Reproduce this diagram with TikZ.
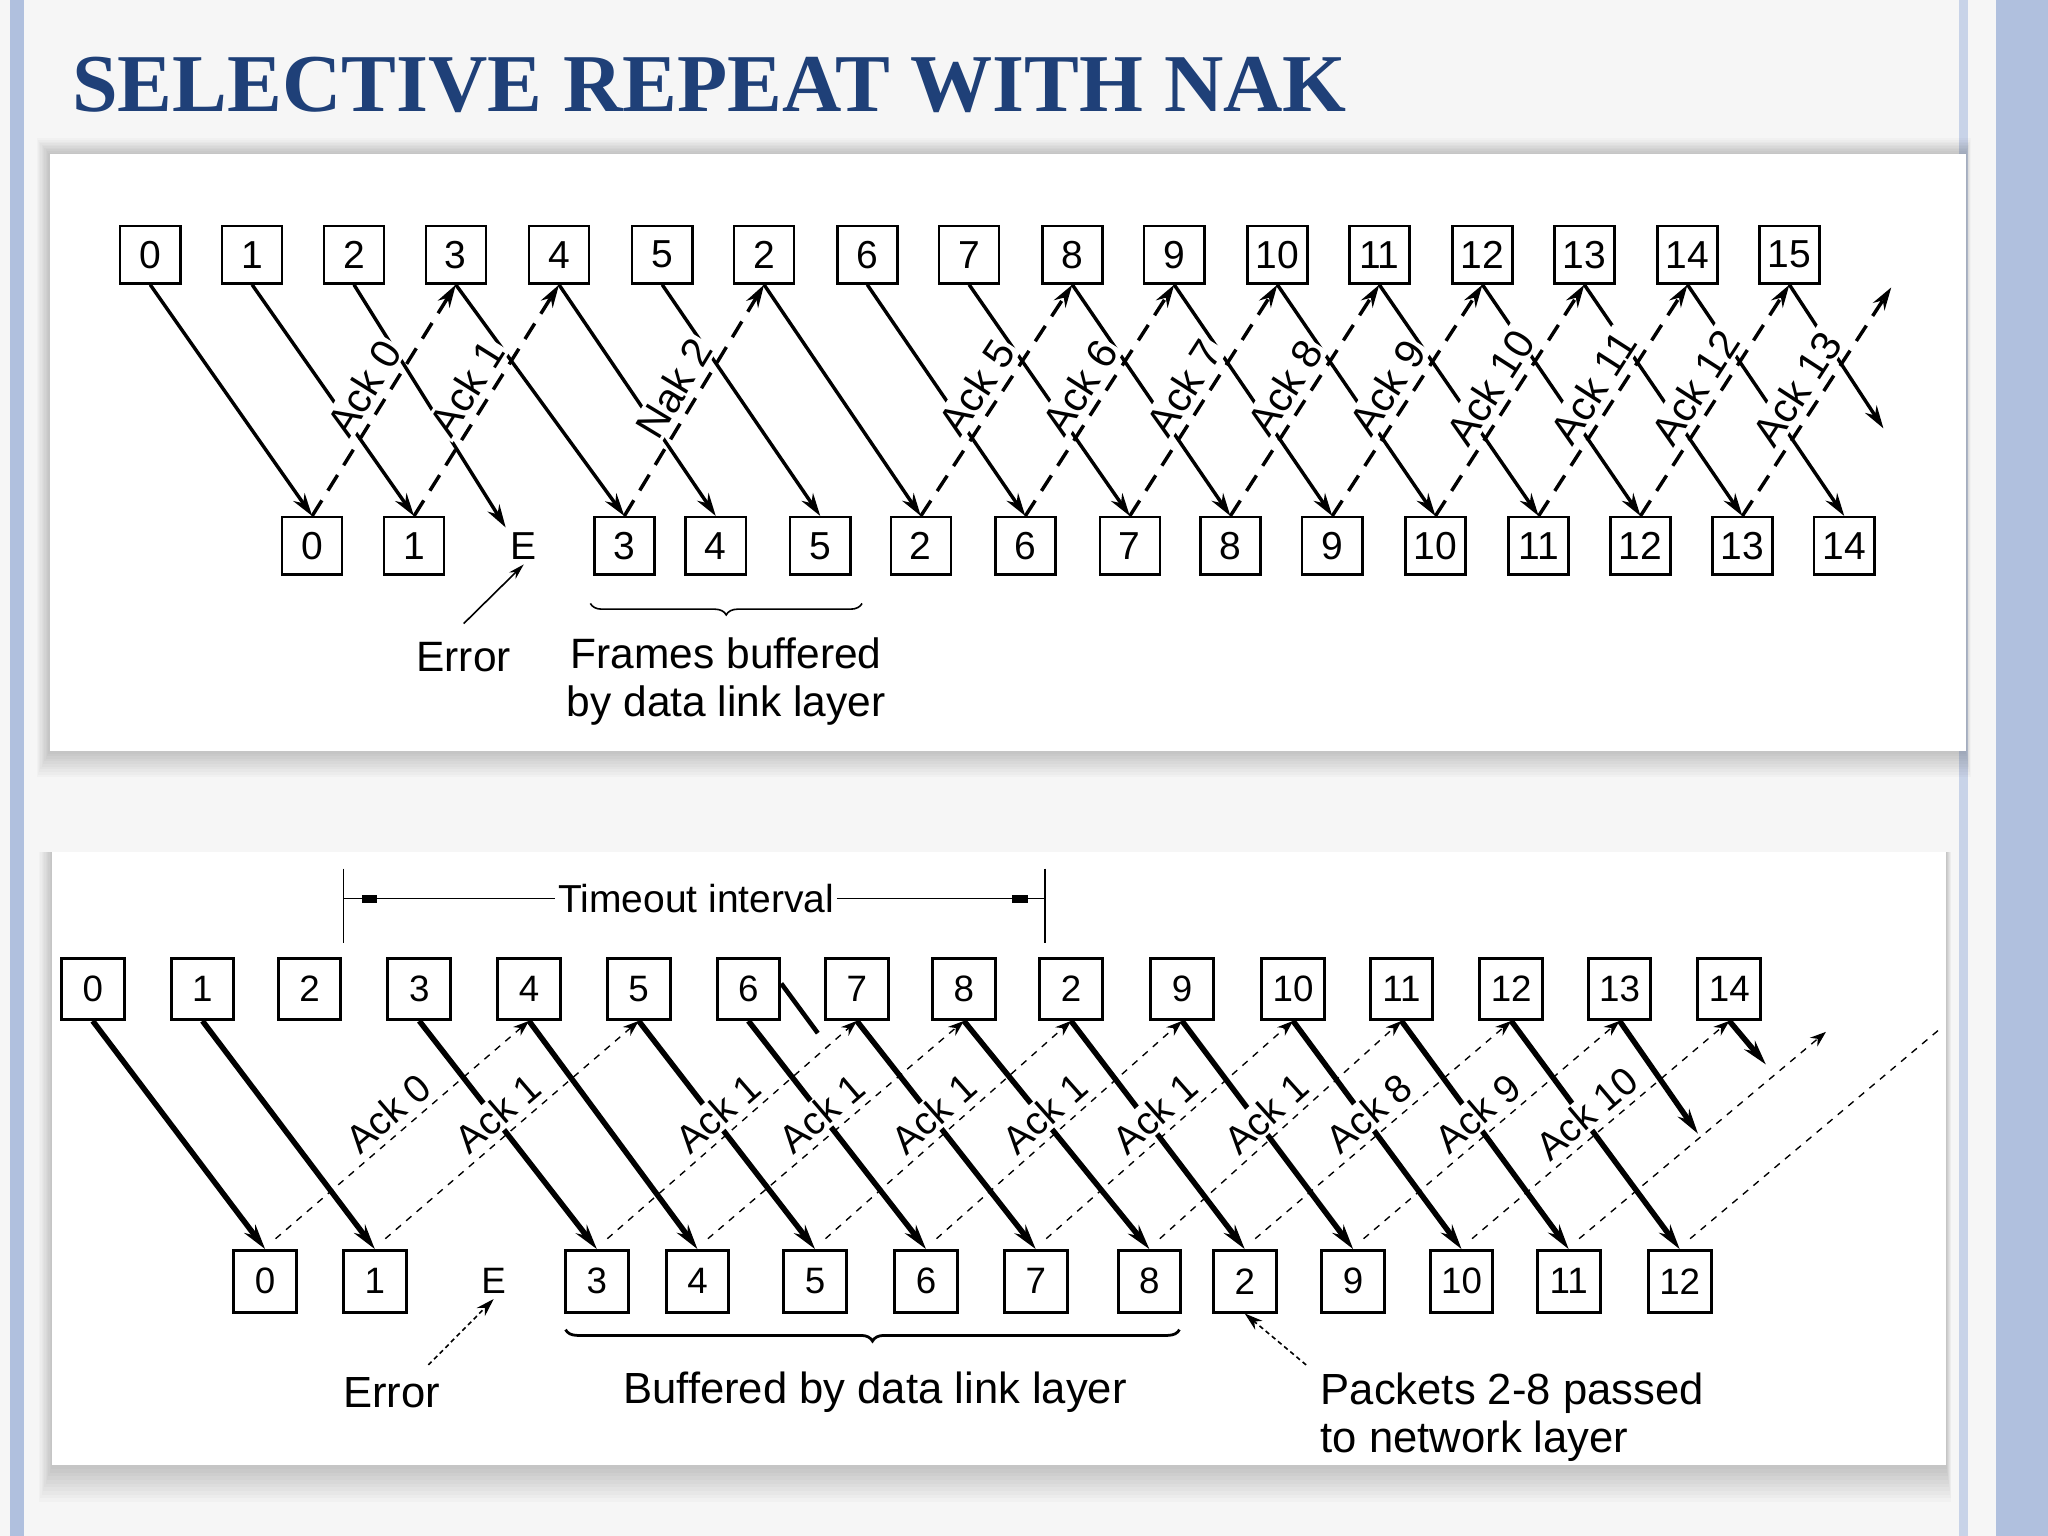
\documentclass[tikz,border=0pt]{standalone}
\usepackage{fontspec}
\setmainfont{Liberation Sans}
\newfontfamily\titlefont{Liberation Serif}
\usetikzlibrary{arrows.meta,decorations.pathreplacing}
\definecolor{titleblue}{RGB}{31,64,120}
\definecolor{stripe}{RGB}{176,192,222}
\definecolor{bg}{RGB}{246,246,246}
\begin{document}
\begin{tikzpicture}[x=0.02cm,y=-0.02cm,
 tbox/.style={draw,line width=1.1pt,minimum width=0.92cm,minimum height=0.88cm,inner sep=0pt,font=\fontsize{17}{17}\selectfont},
 bbox/.style={draw,line width=1.3pt,minimum width=0.96cm,minimum height=0.94cm,inner sep=0pt,font=\fontsize{16}{16}\selectfont},
 tframe/.style={-{Stealth[length=10pt,width=6pt]},line width=1.5pt},
 tack/.style={-{Stealth[length=10pt,width=6pt]},line width=1.5pt,dash pattern=on 8pt off 5pt},
 bframe/.style={-{Stealth[length=11pt,width=6pt]},line width=2.4pt},
 back/.style={-{Stealth[length=7pt,width=5pt]},line width=0.6pt,dash pattern=on 3pt off 3pt},
 tlab/.style={sloped,above=2pt,pos=0.5,font=\fontsize{18}{18}\selectfont,fill=white,inner sep=1pt},
 blab/.style={sloped,above=2pt,pos=0.5,font=\fontsize{17}{17}\selectfont,fill=white,inner sep=1pt},
 txt/.style={font=\fontsize{18.5}{21}\selectfont,align=left},
 btxt/.style={font=\fontsize{19}{21}\selectfont,align=left},
 thin/.style={line width=0.7pt}
]
\useasboundingbox (0,0) rectangle (1568,1176);
\fill[bg] (0,0) rectangle (1568,1176);
\fill[stripe] (8,0) rectangle (18,1176);
\fill[stripe!70] (1500,0) rectangle (1507,1176);
\fill[stripe] (1528,0) rectangle (1568,1176);
\node[anchor=base west,font=\titlefont\bfseries\fontsize{35.8}{36}\selectfont,text=titleblue,inner sep=0pt] (title) at (55,85) {SELECTIVE REPEAT WITH NAK};
% panel shadows (soft, mostly below)
\foreach \d in {2,4,...,20}{
  \fill[black,opacity=0.018] (38-\d*0.5,118-\d*0.6) rectangle (1505+\d*0.2,575+\d);
  \fill[black,opacity=0.018] (40-\d*0.5,652) rectangle (1490+\d*0.2,1122+\d*1.4);
}
\fill[white] (38,118) rectangle (1505,575);
\fill[white] (40,652) rectangle (1490,1122);

% ---------------- top diagram
\foreach \i/\x/\t in {0/115/0,1/193/1,2/271/2,3/349/3,4/428/4,5/507/5,6/585/2,7/664/6,8/742/7,9/821/8,10/899/9,11/978/10,12/1056/11,13/1135/12,14/1213/13,15/1292/14,16/1370/15}
  \node[tbox] (ts\i) at (\x,195) {\t};
\foreach \i/\x/\t in {0/239/0,1/317/1,3/478/3,4/548/4,5/628/5,6/705/2,7/785/6,8/865/7,9/942/8,10/1020/9,11/1099/10,12/1178/11,13/1256/12,14/1334/13,15/1412/14}
  \node[tbox] (tr\i) at (\x,418) {\t};
\node[font=\fontsize{17}{17}\selectfont,inner sep=2pt] (tr2) at (401,418) {E};
\coordinate (tfree) at (1442,328);
\coordinate (tackfree) at (1448,220);
\foreach \i in {0,1,3,4,...,15}
  \draw[tframe] (ts\i.south) -- (tr\i.north);
\draw[tframe] (ts2.south) -- (tr2.north west);
\draw[tframe] (ts16.south) -- (tfree);
\draw[tack] (tr0.north) -- node[tlab]{Ack 0} (ts3.south);
\draw[tack] (tr1.north) -- node[tlab]{Ack 1} (ts4.south);
\draw[tack] (tr3.north) -- node[tlab]{Nak 2} (ts6.south);
\foreach \j/\k/\a in {6/9/5,7/10/6,8/11/7,9/12/8,10/13/9,11/14/10,12/15/11,13/16/12}
  \draw[tack] (tr\j.north) -- node[tlab]{Ack \a} (ts\k.south);
\draw[tack] (tr14.north) -- node[tlab]{Ack 13} (tackfree);
\node[txt] (terr) at (355,503) {Error};
\draw[thin,-{Stealth[length=7pt,width=4pt]}] (terr.north) ++(0,-8) -- (tr2.south);
\node[txt,align=center] (tbuf) at (556,522) {Frames buffered\\by data link layer};
\coordinate (tb1) at (452,462);
\coordinate (tb2) at (660,462);
\draw[thin,decorate,decoration={brace,mirror,amplitude=5pt}] (tb1) -- (tb2);

% ---------------- bottom diagram
\foreach \i/\x/\t in {0/71/0,1/155/1,2/237/2,3/321/3,4/405/4,5/489/5,6/573/6,7/656/7,8/738/8,9/820/2,10/905/9,11/990/10,12/1073/11,13/1157/12,14/1240/13,15/1324/14}
  \node[bbox] (bs\i) at (\x,757) {\t};
\foreach \i/\x/\t in {0/203/0,1/287/1,3/457/3,4/534/4,5/624/5,6/709/6,7/793/7,8/880/8,9/953/2,10/1036/9,11/1119/10,12/1201/11,13/1286/12}
  \node[bbox] (br\i) at (\x,981) {\t};
\node[font=\fontsize{16}{16}\selectfont,inner sep=2pt] (br2) at (378,981) {E};
\coordinate (bf14) at (1300,868);
\coordinate (bf15) at (1352,815);
\coordinate (baf12) at (1398,790);
\coordinate (baf13) at (1485,788);
\foreach \i in {0,1,3,4,...,13}
  \draw[bframe] (bs\i.south) -- (br\i.north);
\draw[bframe] (bs14.south) -- (bf14);
\draw[bframe] (bs15.south) -- (bf15);
\draw[line width=2pt] (bs6.east) ++(0,-4) -- ++(28,38);
\draw[back] (br0.north) ++(8,-8) -- node[blab]{Ack 0} (bs4.south);
\foreach \j/\k/\a in {1/5/1,3/7/1,4/8/1,5/9/1,6/10/1,7/11/1,8/12/1,9/13/8,10/14/9,11/15/10}
  \draw[back] (br\j.north) ++(8,-8) -- node[blab]{Ack \a} (bs\k.south);
\draw[back] (br12.north) ++(8,-8) -- (baf12);
\draw[line width=0.6pt,dash pattern=on 3pt off 3pt] (br13.north) ++(8,-8) -- (baf13);
% timeout
\coordinate (tl) at (263,665); \coordinate (tlb) at (263,722);
\coordinate (tr) at (800,665); \coordinate (trb) at (800,722);
\draw[thin] (tl) -- (tlb);
\draw[thin] (tr) -- (trb);
\node[font=\fontsize{17}{17}\selectfont,inner sep=1pt] (tout) at (533,688) {Timeout interval};
\draw[thin] (263,688) -- (tout.west);
\draw[thin] (tout.east) -- (800,688);
\fill (277,685) rectangle (289,691);
\fill (775,685) rectangle (787,691);
\node[btxt] (berr) at (300,1066) {Error};
\draw[thin,dash pattern=on 2pt off 1.5pt,-{Stealth[length=8pt,width=5pt]}] (328,1045) -- (br2.south);
\node[btxt] (bbuf) at (670,1066) {Buffered by data link layer};
\coordinate (bb1) at (433,1018);
\coordinate (bb2) at (903,1018);
\draw[line width=1.2pt,decorate,decoration={brace,mirror,amplitude=5pt}] (bb1) -- (bb2);
\node[btxt,anchor=west] (bpass) at (1005,1085) {Packets 2-8 passed\\to network layer};
\draw[thin,dash pattern=on 2pt off 1.5pt,-{Stealth[length=8pt,width=5pt]}] (1000,1045) -- (br9.south);
\end{tikzpicture}
\end{document}
